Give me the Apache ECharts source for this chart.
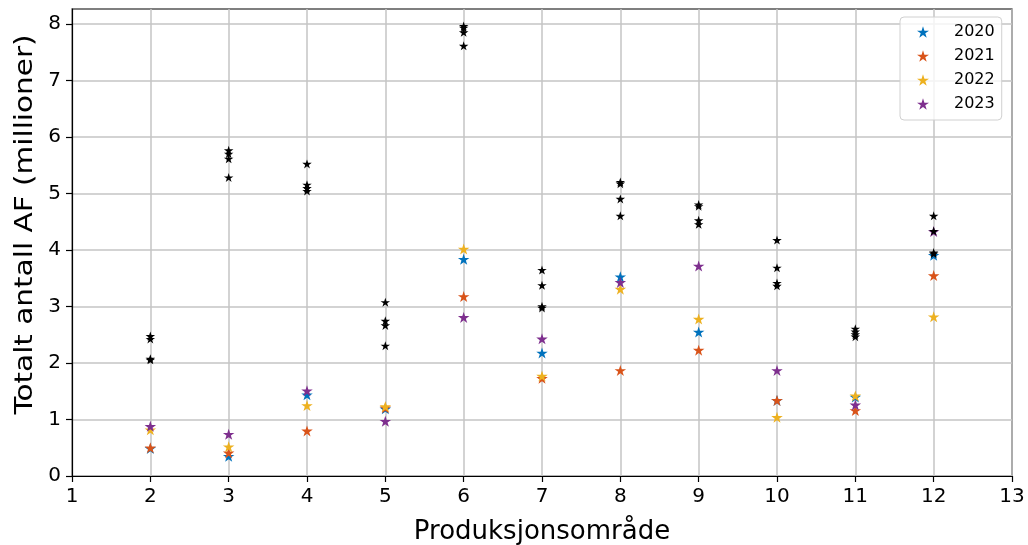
<!DOCTYPE html>
<html>
<head>
<meta charset="utf-8">
<title>Totalt antall AF per produksjonsområde</title>
<script src="https://cdn.jsdelivr.net/npm/echarts@6/dist/echarts.min.js"></script>
<style>
  html, body { margin: 0; padding: 0; background: #fff; }
  #chart { width: 1028px; height: 545px; }
</style>
</head>
<body>
<div id="chart"></div>
<script>
// Produksjonsområder (x) and values in millions
const omraader = [2, 3, 4, 5, 6, 7, 8, 9, 10, 11, 12];
const aar = ['2020', '2021', '2022', '2023'];
const af2020 = [0.48, 0.34, 1.43, 1.18, 3.83, 2.17, 3.52, 2.54, 1.33, 1.39, 3.90];
const af2021 = [0.49, 0.40, 0.79, 1.20, 3.17, 1.72, 1.86, 2.22, 1.33, 1.15, 3.54];
const af2022 = [0.81, 0.51, 1.24, 1.22, 4.01, 1.76, 3.30, 2.77, 1.03, 1.41, 2.81];
const af2023 = [0.87, 0.73, 1.50, 0.96, 2.80, 2.42, 3.42, 3.71, 1.86, 1.25, 4.32];
// Black markers: four values per area
const svart = [
  [2.47, 2.42, 2.07, 2.05],
  [5.76, 5.70, 5.61, 5.28],
  [5.52, 5.15, 5.09, 5.04],
  [3.07, 2.74, 2.66, 2.30],
  [7.96, 7.93, 7.85, 7.61],
  [3.64, 3.37, 3.00, 2.97],
  [5.20, 5.17, 4.90, 4.60],
  [4.80, 4.77, 4.52, 4.45],
  [4.17, 3.68, 3.41, 3.36],
  [2.60, 2.55, 2.50, 2.46],
  [4.60, 4.33, 3.95, 3.93]
];
const xTicks = [1, 2, 3, 4, 5, 6, 7, 8, 9, 10, 11, 12, 13];
const yTicks = [0, 1, 2, 3, 4, 5, 6, 7, 8];
const xTittel = 'Produksjonsområde';
const yTittel = 'Totalt antall AF (millioner)';

const farger = ['#0072BD', '#D95319', '#EDB120', '#7E2F8E'];
const STAR = 'path://M0,-100 L22.45,-30.9 L95.1,-30.9 L36.33,11.8 L58.78,80.9 L0,38.2 L-58.78,80.9 L-36.33,11.8 L-95.1,-30.9 L-22.45,-30.9 Z';
const FONT = 'DejaVu Sans';

const yearValues = [af2020, af2021, af2022, af2023];
const series = aar.map((navn, k) => ({
  name: navn,
  type: 'scatter',
  symbol: STAR,
  symbolSize: [11.5, 11],
  symbolOffset: [0, -0.5],
  itemStyle: { color: farger[k], opacity: 1 },
  data: omraader.map((x, i) => [x, yearValues[k][i]]),
  z: 3 + k
}));
const svartData = [];
omraader.forEach((x, i) => svart[i].forEach(v => svartData.push([x, v])));
series.push({
  name: 'svart',
  type: 'scatter',
  symbol: STAR,
  symbolSize: [9.5, 9],
  symbolOffset: [0, -0.4],
  itemStyle: { color: '#000', opacity: 1 },
  data: svartData,
  z: 8
});

const chart = echarts.init(document.getElementById('chart'), null, { renderer: 'canvas' });
chart.setOption({
  animation: false,
  backgroundColor: '#fff',
  textStyle: { fontFamily: FONT },
  grid: {
    left: 72, right: 16, top: 9, bottom: 69,
    outerBoundsMode: 'none',
    containLabel: false,
    show: true, borderColor: '#000', borderWidth: 1.2, backgroundColor: 'transparent'
  },
  legend: {
    data: aar,
    orient: 'vertical',
    left: 900, top: 17,
    padding: [7, 7, 8, 17],
    itemWidth: 12, itemHeight: 12,
    itemGap: 8,
    icon: STAR,
    backgroundColor: 'rgba(255,255,255,0.8)',
    borderColor: '#d0d0d0', borderWidth: 1, borderRadius: 4,
    textStyle: { fontFamily: FONT, fontSize: 16, color: '#000', lineHeight: 16, padding: [0, 0, 0, 20] }
  },
  // y-axis title, stretched slightly along its length
  graphic: [{
    type: 'text',
    x: 25, y: 224.5,
    rotation: Math.PI / 2,
    scaleX: 1.18,
    style: {
      text: yTittel,
      font: '25px "DejaVu Sans"',
      fill: '#000',
      align: 'center',
      verticalAlign: 'middle'
    }
  }],
  xAxis: {
    type: 'value',
    min: 1, max: 13, interval: 1,
    name: xTittel,
    nameLocation: 'middle',
    nameGap: 43,
    nameTextStyle: { fontFamily: FONT, fontSize: 26, color: '#000' },
    axisLine: { show: true, lineStyle: { color: '#000', width: 1.2 } },
    axisTick: { show: true, length: 6, lineStyle: { color: '#000', width: 1.2 }, customValues: xTicks },
    axisLabel: { fontFamily: FONT, fontSize: 20, color: '#000', margin: 11, customValues: xTicks },
    splitLine: { show: true, lineStyle: { color: '#c4c4c4', width: 1.5 } }
  },
  yAxis: {
    type: 'value',
    min: 0, max: 8.27, interval: 1,
    axisLine: { show: true, lineStyle: { color: '#000', width: 1.2 } },
    axisTick: { show: true, length: 6, lineStyle: { color: '#000', width: 1.2 }, customValues: yTicks },
    axisLabel: { fontFamily: FONT, fontSize: 20, color: '#000', margin: 11, customValues: yTicks },
    splitLine: { show: true, lineStyle: { color: '#c4c4c4', width: 1.5 } }
  },
  series: series
});
</script>
</body>
</html>
